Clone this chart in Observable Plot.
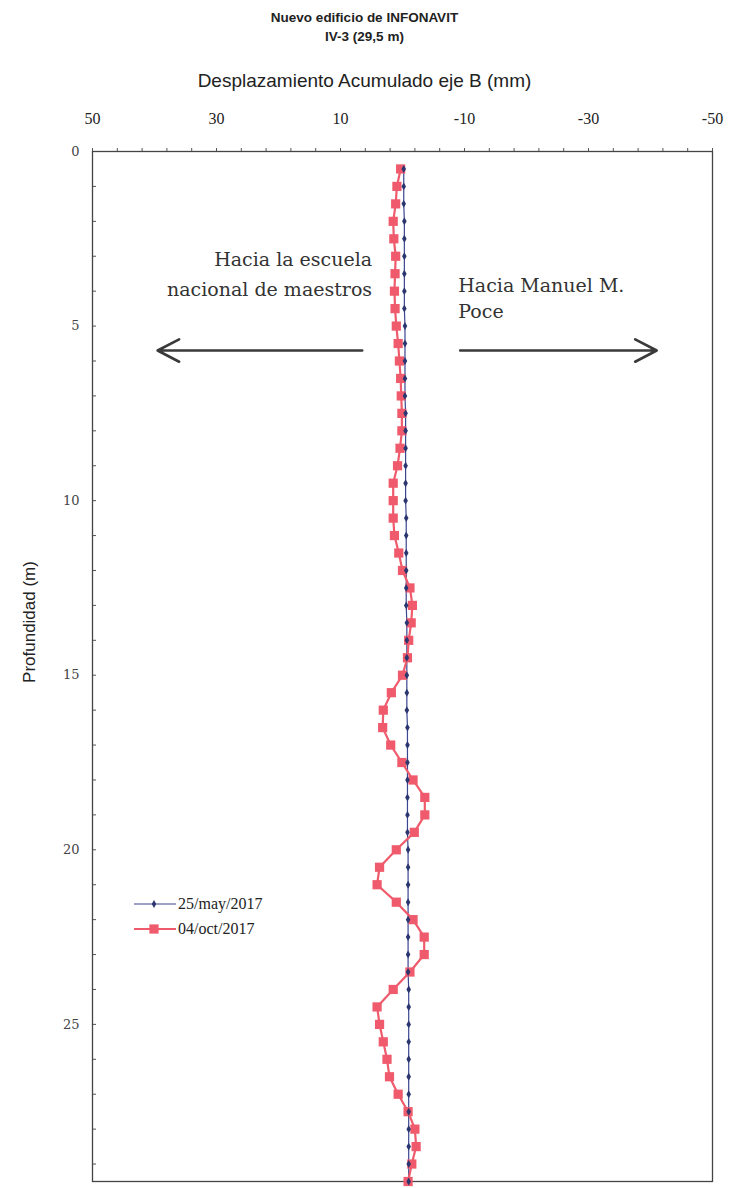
<!DOCTYPE html>
<html>
<head>
<meta charset="utf-8">
<script src="https://cdn.jsdelivr.net/npm/d3@7"></script>
<script src="https://cdn.jsdelivr.net/npm/@observablehq/plot@0.6"></script>
<style>
  body { margin: 0; background: #fff; }
  #wrap { position: relative; width: 729px; height: 1188px; overflow: hidden; }
  .title { position: absolute; left: 0; width: 729px; text-align: center;
           font-family: "Liberation Sans", Arial, sans-serif; font-weight: bold; font-size: 13.5px; color: #222; }
  .axtitle { position: absolute; left: 0; width: 729px; text-align: center;
             font-family: "Liberation Sans", Arial, sans-serif; font-size: 19px; color: #222; }
  .ytitle { position: absolute; left: 30px; top: 622px; transform: translate(-50%, -50%) rotate(-90deg);
            white-space: nowrap; font-family: "Liberation Sans", Arial, sans-serif; font-size: 17px; color: #222; }
  #legend { position: absolute; left: 132px; top: 891px; font-family: "Liberation Serif", "Times New Roman", serif;
            font-size: 16px; color: #222; }
  #legend .row { display: flex; align-items: center; height: 25px; }
  #legend svg { margin-right: 2px; }
  #chart { position: absolute; left: 0; top: 0; }
</style>
</head>
<body>
<div id="wrap">
  <div id="chart"></div>
  <div class="title" style="top:10px">Nuevo edificio de INFONAVIT</div>
  <div class="title" style="top:29px">IV-3 (29,5 m)</div>
  <div class="axtitle" style="top:70px">Desplazamiento Acumulado eje B (mm)</div>
  <div class="ytitle">Profundidad (m)</div>
  <div id="legend"></div>
</div>
<script>
// Depths (m)
const depth = [0.5,1,1.5,2,2.5,3,3.5,4,4.5,5,5.5,6,6.5,7,7.5,8,8.5,9,9.5,10,
  10.5,11,11.5,12,12.5,13,13.5,14,14.5,15,15.5,16,16.5,17,17.5,18,18.5,19,19.5,20,
  20.5,21,21.5,22,22.5,23,23.5,24,24.5,25,25.5,26,26.5,27,27.5,28,28.5,29,29.5];
// Series: 25/may/2017 (mm)
const may2017 = [-0.2,-0.2,-0.2,-0.3,-0.3,-0.3,-0.3,-0.3,-0.3,-0.4,
  -0.4,-0.4,-0.4,-0.4,-0.5,-0.5,-0.5,-0.5,-0.5,-0.5,
  -0.6,-0.6,-0.6,-0.6,-0.6,-0.6,-0.7,-0.7,-0.7,-0.7,
  -0.7,-0.7,-0.8,-0.8,-0.8,-0.8,-0.8,-0.8,-0.8,-0.9,
  -0.9,-0.9,-0.9,-0.9,-0.9,-0.9,-0.9,-1.0,-1.0,-1.0,
  -1.0,-1.0,-1.0,-1.0,-1.0,-1.0,-1.0,-1.0,-1.0];
// Series: 04/oct/2017 (mm)
const oct2017 = [0.3,0.9,1.1,1.5,1.4,1.1,1.2,1.3,1.2,1.0,
  0.7,0.5,0.3,0.2,0.1,0.1,0.4,0.8,1.5,1.5,
  1.5,1.3,0.6,0.0,-1.2,-1.6,-1.4,-1.0,-0.8,0.0,
  1.8,3.1,3.2,1.9,0.1,-1.7,-3.6,-3.6,-1.9,1.0,
  3.7,4.1,1.0,-1.7,-3.5,-3.5,-1.2,1.5,4.1,3.7,
  3.1,2.5,2.1,0.7,-0.9,-2.0,-2.2,-1.5,-0.9];
const seriesNames = ["25/may/2017", "04/oct/2017"];
const xTicks = [50, 30, 10, -10, -30, -50];
const xMinor = d3.range(50, -50.01, -4);
const yTicks = [0, 5, 10, 15, 20, 25];
const yMinor = d3.range(0, 30, 1);
const notesLeft = ["Hacia la escuela", "nacional de maestros"];
const notesRight = ["Hacia Manuel M.", "Poce"];

const may = depth.map((d, i) => ({depth: d, v: may2017[i]}));
const oct = depth.map((d, i) => ({depth: d, v: oct2017[i]}));
const annotsL = [
  {x: 4.9, y: 3.1, t: notesLeft[0]},
  {x: 4.9, y: 3.95, t: notesLeft[1]}
];
const annotsR = [
  {x: -9.0, y: 3.85, t: notesRight[0]},
  {x: -9.0, y: 4.6, t: notesRight[1]}
];
const arrows = [
  {x1: 6.5, x2: 39.5, y: 5.7},
  {x1: -9.3, x2: -41.0, y: 5.7}
];

const red = "#ef5b6c", blue = "#3a4690";
const serifWide = "'DejaVu Serif', 'Century Schoolbook', serif";

const chart = Plot.plot({
  width: 729, height: 1188,
  marginTop: 151, marginBottom: 7, marginLeft: 92, marginRight: 17,
  style: {fontFamily: "'Liberation Serif', 'Times New Roman', serif", color: "#333", background: "transparent"},
  x: {domain: [50, -50], axis: null},
  y: {domain: [0, 29.5], reverse: true, axis: null},
  marks: [
    Plot.axisX({anchor: "top", ticks: xMinor, tickSize: 4, tickFormat: () => "", label: null, stroke: "#555"}),
    Plot.axisX({anchor: "top", ticks: xTicks, tickSize: 0, tickPadding: 28, fontSize: 16, label: null, tickFormat: d => String(d), fill: "#222"}),
    Plot.axisY({anchor: "left", ticks: yMinor, tickSize: -4, tickFormat: () => "", label: null, stroke: "#555"}),
    Plot.axisY({anchor: "left", ticks: yTicks, tickSize: 0, tickPadding: 13, fontSize: 13, label: null, fill: "#444", fontFamily: serifWide}),
    Plot.frame({stroke: "#444", strokeWidth: 1.3}),
    Plot.text(annotsL, {x: "x", y: "y", text: "t", textAnchor: "end", fontSize: 19, fill: "#333", fontFamily: serifWide}),
    Plot.text(annotsR, {x: "x", y: "y", text: "t", textAnchor: "start", fontSize: 19, fill: "#333", fontFamily: serifWide}),
    Plot.arrow(arrows, {x1: "x1", x2: "x2", y1: "y", y2: "y", stroke: "#3a3a3a", strokeWidth: 2.6, headLength: 14, headAngle: 55}),
    Plot.line(may, {x: "v", y: "depth", stroke: blue, strokeWidth: 1.2}),
    Plot.line(oct, {x: "v", y: "depth", stroke: red, strokeWidth: 2.2}),
    Plot.dot(oct, {x: "v", y: "depth", symbol: "square", r: 5.2, fill: red, stroke: "none"}),
    Plot.dot(may, {x: "v", y: "depth", symbol: "diamond", r: 2.4, fill: "#2b3670", stroke: "none"})
  ]
});
document.getElementById("chart").appendChild(chart);

// Legend
const legend = document.getElementById("legend");
const items = [
  {name: seriesNames[0], color: blue, sym: "diamond"},
  {name: seriesNames[1], color: red, sym: "square"}
];
for (const it of items) {
  const row = document.createElement("div");
  row.className = "row";
  const ns = "http://www.w3.org/2000/svg";
  const s = document.createElementNS(ns, "svg");
  s.setAttribute("width", 44); s.setAttribute("height", 16);
  const ln = document.createElementNS(ns, "line");
  ln.setAttribute("x1", 2); ln.setAttribute("x2", 44); ln.setAttribute("y1", 8); ln.setAttribute("y2", 8);
  ln.setAttribute("stroke", it.color); ln.setAttribute("stroke-width", it.sym === "square" ? 2.2 : 1.2);
  s.appendChild(ln);
  const p = document.createElementNS(ns, "path");
  p.setAttribute("transform", "translate(22,8)");
  p.setAttribute("d", it.sym === "square" ? d3.symbol(d3.symbolSquare, 85)() : d3.symbol(d3.symbolDiamond, 18)());
  p.setAttribute("fill", it.sym === "square" ? red : "#2b3670");
  s.appendChild(p);
  row.appendChild(s);
  const t = document.createElement("span");
  t.textContent = it.name;
  row.appendChild(t);
  legend.appendChild(row);
}
</script>
</body>
</html>
